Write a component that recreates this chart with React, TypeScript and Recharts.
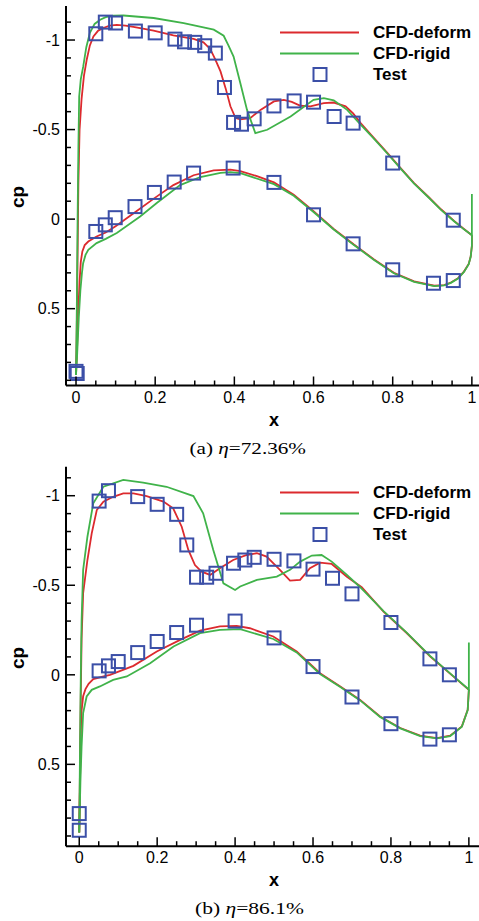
import React from 'react';
import { ComposedChart, Line, Scatter, XAxis, YAxis, Legend } from 'recharts';

type Pt = [number, number];

const X_TICKS = [0, 0.05, 0.1, 0.15, 0.2, 0.25, 0.3, 0.35, 0.4, 0.45, 0.5, 0.55, 0.6, 0.65, 0.7, 0.75, 0.8, 0.85, 0.9, 0.95, 1];
const Y_TICKS = [-1.1, -1, -0.9, -0.8, -0.7, -0.6, -0.5, -0.4, -0.3, -0.2, -0.1, 0, 0.1, 0.2, 0.3, 0.4, 0.5, 0.6, 0.7, 0.8, 0.9];
const LEGEND_LABELS = ['CFD-deform', 'CFD-rigid', 'Test'];

// (a) eta = 72.36%
const DEFORM_A_UPPER: Pt[] = [
  [0, 0.87], [0.002, 0.6], [0.004, 0.2], [0.006, -0.2], [0.009, -0.5], [0.014, -0.67], [0.02, -0.8],
  [0.027, -0.89], [0.035, -0.97], [0.044, -1.02], [0.055, -1.05], [0.069, -1.067], [0.085, -1.08],
  [0.103, -1.085], [0.125, -1.08], [0.145, -1.073], [0.196, -1.052], [0.246, -1.026], [0.297, -1.006],
  [0.322, -0.987], [0.339, -0.95], [0.352, -0.89], [0.365, -0.825], [0.378, -0.73], [0.39, -0.63],
  [0.403, -0.564], [0.415, -0.557], [0.44, -0.564], [0.466, -0.61], [0.5, -0.657], [0.525, -0.666],
  [0.545, -0.655], [0.567, -0.633], [0.592, -0.63], [0.626, -0.648], [0.651, -0.651], [0.681, -0.63],
  [0.7, -0.59], [0.719, -0.536], [0.75, -0.46], [0.787, -0.369], [0.82, -0.285], [0.854, -0.201],
  [0.89, -0.125], [0.922, -0.055], [0.955, 0.01], [0.98, 0.055], [1, 0.09],
];
const DEFORM_A_LOWER: Pt[] = [
  [0, 0.87], [0.003, 0.7], [0.006, 0.5], [0.009, 0.35], [0.012, 0.24], [0.016, 0.18], [0.022, 0.145],
  [0.031, 0.125], [0.052, 0.097], [0.075, 0.075], [0.1, 0.04], [0.15, -0.04], [0.2, -0.12], [0.246, -0.19],
  [0.297, -0.245], [0.348, -0.272], [0.39, -0.276], [0.415, -0.268], [0.457, -0.24], [0.5, -0.205],
  [0.55, -0.136], [0.6, -0.045], [0.651, 0.055], [0.702, 0.142], [0.753, 0.225], [0.803, 0.3],
  [0.854, 0.348], [0.905, 0.372], [0.93, 0.368], [0.947, 0.354], [0.965, 0.33], [0.98, 0.293],
  [0.992, 0.25], [0.997, 0.209], [1, 0.15], [1, 0.09],
];
const RIGID_A_UPPER: Pt[] = [
  [0, 0.87], [0.002, 0.5], [0.004, 0], [0.006, -0.4], [0.008, -0.685], [0.012, -0.78], [0.018, -0.85],
  [0.026, -0.96], [0.035, -1.04], [0.047, -1.09], [0.061, -1.113], [0.075, -1.128], [0.094, -1.136],
  [0.12, -1.137], [0.196, -1.123], [0.272, -1.095], [0.348, -1.058], [0.373, -1.024], [0.385, -0.97],
  [0.398, -0.908], [0.415, -0.76], [0.432, -0.61], [0.453, -0.48], [0.483, -0.499], [0.542, -0.573],
  [0.6, -0.666], [0.626, -0.676], [0.651, -0.663], [0.685, -0.61], [0.719, -0.527], [0.75, -0.455],
  [0.787, -0.365], [0.82, -0.282], [0.854, -0.198], [0.89, -0.122], [0.922, -0.052], [0.955, 0.012],
  [0.98, 0.057], [1, 0.09], [1, -0.14],
];
const RIGID_A_LOWER: Pt[] = [
  [0, 0.87], [0.003, 0.75], [0.007, 0.55], [0.011, 0.4], [0.015, 0.3], [0.018, 0.246], [0.024, 0.2],
  [0.031, 0.171], [0.052, 0.134], [0.075, 0.11], [0.103, 0.078], [0.162, -0.015], [0.204, -0.09],
  [0.263, -0.19], [0.314, -0.235], [0.365, -0.258], [0.39, -0.262], [0.415, -0.257], [0.5, -0.195],
  [0.55, -0.13], [0.6, -0.04], [0.651, 0.058], [0.702, 0.145], [0.753, 0.228], [0.803, 0.302],
  [0.854, 0.35], [0.905, 0.374], [0.93, 0.37], [0.947, 0.356], [0.965, 0.332], [0.98, 0.295],
  [0.992, 0.252], [0.997, 0.21], [1, 0.15], [1, 0.09],
];
const TEST_A: Pt[] = [
  [0.05, -1.035], [0.074, -1.1], [0.1, -1.095], [0.15, -1.05], [0.2, -1.04], [0.25, -1.005], [0.274, -0.99],
  [0.3, -0.987], [0.325, -0.968], [0.352, -0.927], [0.375, -0.735], [0.398, -0.54], [0.418, -0.53],
  [0.45, -0.56], [0.5, -0.632], [0.551, -0.66], [0.6, -0.653], [0.652, -0.573], [0.7, -0.536],
  [0.8, -0.313], [0.953, 0.006],
  [0, 0.85], [0.003, 0.862], [0.05, 0.069], [0.074, 0.032], [0.099, -0.008], [0.149, -0.07],
  [0.198, -0.149], [0.248, -0.207], [0.297, -0.257], [0.397, -0.285], [0.5, -0.205], [0.6, -0.024],
  [0.7, 0.138], [0.8, 0.283], [0.903, 0.358], [0.953, 0.343],
];

// (b) eta = 86.1%
const DEFORM_B_UPPER: Pt[] = [
  [0, 0.88], [0.002, 0.5], [0.004, 0.1], [0.006, -0.2], [0.01, -0.456], [0.021, -0.641], [0.032, -0.79],
  [0.045, -0.92], [0.062, -0.967], [0.087, -0.994], [0.113, -1.013], [0.139, -1.013], [0.173, -0.998],
  [0.216, -0.967], [0.241, -0.93], [0.263, -0.827], [0.28, -0.697], [0.297, -0.613], [0.314, -0.576],
  [0.336, -0.558], [0.361, -0.595], [0.395, -0.641], [0.43, -0.669], [0.456, -0.679], [0.481, -0.66],
  [0.515, -0.586], [0.541, -0.526], [0.567, -0.53], [0.592, -0.595], [0.618, -0.626], [0.648, -0.619],
  [0.687, -0.548], [0.725, -0.489], [0.781, -0.353], [0.841, -0.232], [0.901, -0.102], [0.96, 0.009],
  [1, 0.084],
];
const DEFORM_B_LOWER: Pt[] = [
  [0, 0.88], [0.002, 0.6], [0.004, 0.307], [0.006, 0.2], [0.01, 0.12], [0.016, 0.08], [0.024, 0.05],
  [0.036, 0.024], [0.06, 0.01], [0.079, 0], [0.139, -0.05], [0.199, -0.13], [0.259, -0.195],
  [0.31, -0.247], [0.361, -0.27], [0.404, -0.273], [0.438, -0.26], [0.498, -0.214], [0.558, -0.13],
  [0.618, -0.009], [0.67, 0.065], [0.721, 0.14], [0.772, 0.233], [0.824, 0.297], [0.875, 0.34],
  [0.918, 0.353], [0.952, 0.34], [0.982, 0.288], [0.997, 0.195], [1, 0.084],
];
const RIGID_B_UPPER: Pt[] = [
  [0, 0.88], [0.002, 0.4], [0.004, 0], [0.006, -0.3], [0.01, -0.586], [0.021, -0.771], [0.036, -0.958],
  [0.062, -1.05], [0.113, -1.088], [0.164, -1.073], [0.224, -1.05], [0.293, -0.998], [0.318, -0.902],
  [0.344, -0.697], [0.37, -0.511], [0.4, -0.474], [0.413, -0.493], [0.456, -0.53], [0.507, -0.548],
  [0.541, -0.586], [0.567, -0.632], [0.597, -0.666], [0.622, -0.669], [0.648, -0.632], [0.687, -0.558],
  [0.721, -0.489], [0.781, -0.355], [0.841, -0.234], [0.901, -0.104], [0.96, 0.007], [1, 0.082], [1, -0.18],
];
const RIGID_B_LOWER: Pt[] = [
  [0, 0.88], [0.003, 0.6], [0.006, 0.4], [0.01, 0.214], [0.019, 0.121], [0.032, 0.084], [0.053, 0.065],
  [0.087, 0.028], [0.122, 0.009], [0.182, -0.065], [0.242, -0.158], [0.31, -0.233], [0.361, -0.251],
  [0.413, -0.255], [0.498, -0.2], [0.558, -0.125], [0.618, -0.005], [0.67, 0.068], [0.721, 0.143],
  [0.772, 0.235], [0.824, 0.299], [0.875, 0.342], [0.918, 0.355], [0.952, 0.342], [0.982, 0.29],
  [0.997, 0.197], [1, 0.082],
];
const TEST_B: Pt[] = [
  [0.051, -0.97], [0.075, -1.028], [0.15, -0.995], [0.2, -0.952], [0.25, -0.896], [0.276, -0.725],
  [0.301, -0.545], [0.327, -0.545], [0.351, -0.567], [0.396, -0.623], [0.425, -0.641], [0.449, -0.656],
  [0.5, -0.645], [0.551, -0.636], [0.6, -0.59], [0.65, -0.539], [0.7, -0.452], [0.8, -0.292],
  [0.9, -0.089], [0.95, 0],
  [0, 0.775], [0, 0.868], [0.051, -0.022], [0.075, -0.05], [0.1, -0.074], [0.15, -0.124], [0.2, -0.186],
  [0.25, -0.236], [0.301, -0.277], [0.4, -0.3], [0.5, -0.206], [0.6, -0.046], [0.7, 0.124], [0.8, 0.273],
  [0.9, 0.359], [0.95, 0.335],
];

const RED = '#dc2a2e';
const GREEN = '#40b34a';
const BLUE = '#3b4fa7';
const SANS = '"Liberation Sans", Arial, sans-serif';
const SERIF = '"Liberation Serif", "Times New Roman", serif';

const toPts = (a: Pt[]) => a.map(([x, cp]) => ({ x, cp }));
const near = (v: number, step: number) => Math.abs(v / step - Math.round(v / step)) < 1e-6;

const XTick = (props: any) => {
  const { x, y, payload } = props;
  const major = near(payload.value, 0.2);
  return (
    <g>
      <line x1={x} x2={x} y1={y} y2={y - (major ? 9 : 5)} stroke="#000" strokeWidth={1.5} />
      {major && (
        <text x={x} y={y + 17} textAnchor="middle" fontSize={16} fontFamily={SANS} fill="#000">
          {String(Math.round(payload.value * 10) / 10)}
        </text>
      )}
    </g>
  );
};

const YTick = (props: any) => {
  const { x, y, payload } = props;
  const major = near(payload.value, 0.5);
  return (
    <g>
      <line x1={x} x2={x + (major ? 9 : 5)} y1={y} y2={y} stroke="#000" strokeWidth={1.5} />
      {major && (
        <text x={x - 6} y={y} dy="0.36em" textAnchor="end" fontSize={16} fontFamily={SANS} fill="#000">
          {String(Math.round(payload.value * 10) / 10)}
        </text>
      )}
    </g>
  );
};

const Square = (props: any) => {
  const { cx, cy } = props;
  return <rect x={cx - 6.5} y={cy - 6.5} width={13} height={13} fill="none" stroke={BLUE} strokeWidth={2} />;
};

const LegendBox = () => (
  <div style={{ fontFamily: SANS, fontWeight: 'bold', fontSize: 17, color: '#000' }}>
    {LEGEND_LABELS.map((label, i) => (
      <div key={label} style={{ display: 'flex', alignItems: 'center', height: 21 }}>
        <svg width={95} height={21} style={{ flex: 'none' }}>
          {i < 2 ? (
            <line x1={2} x2={81} y1={10.5} y2={10.5} stroke={i === 0 ? RED : GREEN} strokeWidth={2} />
          ) : (
            <rect x={35.5} y={4} width={13} height={13} fill="none" stroke={BLUE} strokeWidth={2} />
          )}
        </svg>
        <span style={{ lineHeight: '21px', whiteSpace: 'nowrap' }}>{label}</span>
      </div>
    ))}
  </div>
);

type PanelProps = {
  top: number;
  height: number;
  marginTop: number;
  xDomain: [number, number];
  yDomain: [number, number];
  deformUpper: Pt[];
  deformLower: Pt[];
  rigidUpper: Pt[];
  rigidLower: Pt[];
  test: Pt[];
};

const Panel = (p: PanelProps) => (
  <div style={{ position: 'absolute', left: 0, top: p.top }}>
    <ComposedChart width={479} height={p.height} margin={{ top: p.marginTop, right: 0, bottom: 0, left: 0 }}>
      <XAxis
        type="number"
        dataKey="x"
        domain={p.xDomain}
        allowDataOverflow
        ticks={X_TICKS}
        interval={0}
        tick={<XTick />}
        tickLine={false}
        tickSize={0}
        tickMargin={0}
        axisLine={{ stroke: '#000', strokeWidth: 2 }}
        height={p.height - p.marginTop - 379.5}
      />
      <YAxis
        type="number"
        dataKey="cp"
        domain={p.yDomain}
        reversed
        allowDataOverflow
        ticks={Y_TICKS}
        interval={0}
        tick={<YTick />}
        tickLine={false}
        tickSize={0}
        tickMargin={0}
        axisLine={{ stroke: '#000', strokeWidth: 2 }}
        width={66}
      />
      <Scatter data={toPts(p.test)} shape={<Square />} isAnimationActive={false} />
      <Line data={toPts(p.deformLower)} dataKey="cp" type="linear" stroke={RED} strokeWidth={1.8} dot={false} activeDot={false} isAnimationActive={false} />
      <Line data={toPts(p.deformUpper)} dataKey="cp" type="linear" stroke={RED} strokeWidth={1.8} dot={false} activeDot={false} isAnimationActive={false} />
      <Line data={toPts(p.rigidLower)} dataKey="cp" type="linear" stroke={GREEN} strokeWidth={1.8} dot={false} activeDot={false} isAnimationActive={false} />
      <Line data={toPts(p.rigidUpper)} dataKey="cp" type="linear" stroke={GREEN} strokeWidth={1.8} dot={false} activeDot={false} isAnimationActive={false} />
      <Legend
        content={<LegendBox />}
        layout="horizontal"
        verticalAlign="middle"
        align="center"
        wrapperStyle={{ top: 22, left: 278, width: 200, height: 64 }}
      />
    </ComposedChart>
  </div>
);

export default function App() {
  return (
    <div style={{ position: 'absolute', left: 0, top: 0, width: 479, height: 921, background: '#fff', overflow: 'hidden' }}>
      <Panel
        top={0}
        height={460}
        marginTop={6}
        xDomain={[-0.0253, 1.018]}
        yDomain={[-1.19, 0.929]}
        deformUpper={DEFORM_A_UPPER}
        deformLower={DEFORM_A_LOWER}
        rigidUpper={RIGID_A_UPPER}
        rigidLower={RIGID_A_LOWER}
        test={TEST_A}
      />
      <Panel
        top={460}
        height={461}
        marginTop={6.7}
        xDomain={[-0.034, 1.026]}
        yDomain={[-1.162, 0.957]}
        deformUpper={DEFORM_B_UPPER}
        deformLower={DEFORM_B_LOWER}
        rigidUpper={RIGID_B_UPPER}
        rigidLower={RIGID_B_LOWER}
        test={TEST_B}
      />
      <svg width={479} height={921} style={{ position: 'absolute', left: 0, top: 0, pointerEvents: 'none' }}>
        <text x={18} y={197} dy="0.3em" transform="rotate(-90 18 197)" textAnchor="middle" fontFamily={SANS} fontWeight="bold" fontSize={19}>cp</text>
        <text x={274} y={425.5} textAnchor="middle" fontFamily={SANS} fontWeight="bold" fontSize={18}>x</text>
        <text x={189.5} y={454} fontFamily={SERIF} fontSize={16.5} textLength={116.5} lengthAdjust="spacingAndGlyphs">
          (a) <tspan fontStyle="italic">η</tspan>=72.36%
        </text>
        <text x={18} y={658} dy="0.3em" transform="rotate(-90 18 658)" textAnchor="middle" fontFamily={SANS} fontWeight="bold" fontSize={19}>cp</text>
        <text x={274} y={885.5} textAnchor="middle" fontFamily={SANS} fontWeight="bold" fontSize={18}>x</text>
        <text x={195} y={914} fontFamily={SERIF} fontSize={16.5} textLength={109} lengthAdjust="spacingAndGlyphs">
          (b) <tspan fontStyle="italic">η</tspan>=86.1%
        </text>
      </svg>
    </div>
  );
}
